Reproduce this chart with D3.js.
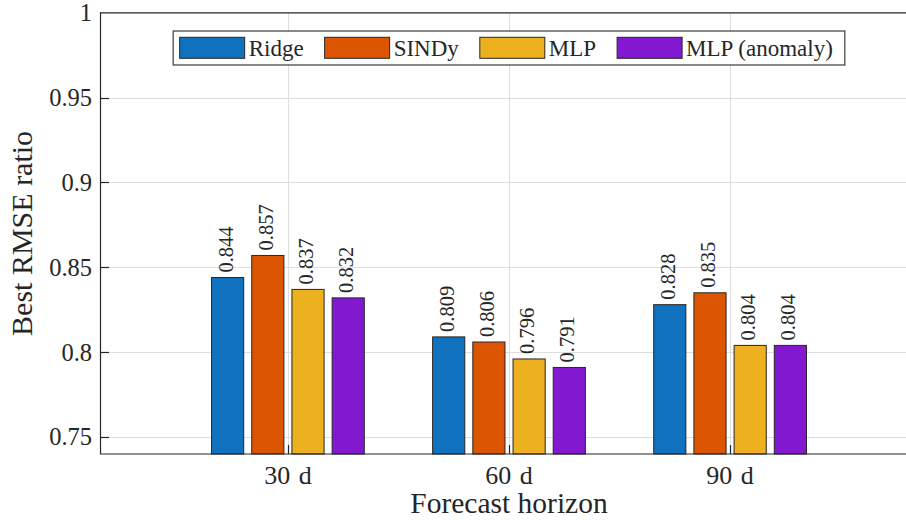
<!DOCTYPE html>
<html>
<head>
<meta charset="utf-8">
<script src="https://cdn.jsdelivr.net/npm/d3@7"></script>
<style>
  html, body { margin: 0; padding: 0; background: #fff; }
  svg { display: block; }
  text { font-family: "Liberation Serif", "Times New Roman", serif; fill: #262626; }
</style>
</head>
<body>
<svg id="chart" width="906" height="520"></svg>
<script>
// Forecast horizons and best RMSE ratio per model
const categories = ["30 d", "60 d", "90 d"];
const seriesNames = ["Ridge", "SINDy", "MLP", "MLP (anomaly)"];
const ridge = [0.844, 0.809, 0.828];
const sindy = [0.857, 0.806, 0.835];
const mlp = [0.837, 0.796, 0.804];
const mlpAnomaly = [0.832, 0.791, 0.804];
const yTicks = [0.75, 0.8, 0.85, 0.9, 0.95, 1];
const yTickLabels = ["0.75", "0.8", "0.85", "0.9", "0.95", "1"];
const colors = ["#1071be", "#dc5500", "#edb120", "#8318d1"];

const seriesValues = [ridge, sindy, mlp, mlpAnomaly];

const W = 906, H = 520;
const svg = d3.select("#chart");

// plot box (extends slightly past the right edge of the page)
const pL = 100, pR = 918, pT = 12.8, pB = 454;

const x = d3.scaleLinear().domain([0.15, 3.85]).range([pL, pR]);
const y = d3.scaleLinear().domain([0.74, 1]).range([pB, pT]);

// grouped-bar geometry in category units
const nS = seriesNames.length;
const groupWidth = Math.min(0.8, nS / (nS + 1.5));
const step = groupWidth / nS;
const barW = step * 0.8;
const offset = i => (i - (nS - 1) / 2) * step;

svg.append("defs").append("clipPath").attr("id", "plotclip")
  .append("rect").attr("x", pL).attr("y", pT - 1).attr("width", pR - pL).attr("height", pB - pT + 2);

const plot = svg.append("g").attr("clip-path", "url(#plotclip)");

// grid
plot.append("g").selectAll("line")
  .data(yTicks.filter(v => v < 1))
  .join("line")
  .attr("x1", pL).attr("x2", pR)
  .attr("y1", d => Math.round(y(d)) + 0.5).attr("y2", d => Math.round(y(d)) + 0.5)
  .attr("stroke", "#dedede").attr("stroke-width", 1);

plot.append("g").selectAll("line")
  .data(categories)
  .join("line")
  .attr("x1", (d, i) => Math.round(x(i + 1)) + 0.5).attr("x2", (d, i) => Math.round(x(i + 1)) + 0.5)
  .attr("y1", pT).attr("y2", pB)
  .attr("stroke", "#dedede").attr("stroke-width", 1);

// bars
const barData = [];
seriesValues.forEach((vals, s) => vals.forEach((v, c) => barData.push({ s, c, v })));

plot.append("g").selectAll("rect")
  .data(barData)
  .join("rect")
  .attr("x", d => x(d.c + 1 + offset(d.s) - barW / 2))
  .attr("width", d => x(barW) - x(0))
  .attr("y", d => y(d.v))
  .attr("height", d => pB - y(d.v))
  .attr("fill", d => colors[d.s])
  .attr("stroke", "#262626").attr("stroke-width", 1);

// value labels above bars
svg.append("g").selectAll("text")
  .data(barData)
  .join("text")
  .attr("transform", d => `translate(${x(d.c + 1 + offset(d.s)) - 2},${y(d.v) - 5}) rotate(-90)`)
  .attr("text-anchor", "start")
  .attr("dy", "0.34em")
  .style("font-size", "20.5px")
  .text(d => d.v.toFixed(3));

// axes frame
const frame = svg.append("g").attr("stroke", "#262626").attr("stroke-width", 1.2).attr("fill", "none");
frame.append("line").attr("x1", pL + 0.5).attr("x2", pL + 0.5).attr("y1", pT).attr("y2", pB);
frame.append("line").attr("x1", pL).attr("x2", W).attr("y1", pB).attr("y2", pB);
frame.append("line").attr("x1", pL).attr("x2", W).attr("y1", pT).attr("y2", pT);

// y ticks (inward) and labels
const yAxis = svg.append("g");
yAxis.selectAll("line")
  .data(yTicks.filter(v => v < 1))
  .join("line")
  .attr("x1", pL).attr("x2", pL + 9)
  .attr("y1", d => Math.round(y(d)) + 0.5).attr("y2", d => Math.round(y(d)) + 0.5)
  .attr("stroke", "#262626").attr("stroke-width", 1.2);
yAxis.selectAll("text")
  .data(yTicks)
  .join("text")
  .attr("x", pL - 8)
  .attr("y", d => y(d))
  .attr("dy", "0.34em")
  .attr("text-anchor", "end")
  .style("font-size", "24.5px")
  .text((d, i) => yTickLabels[i]);

// x ticks (inward) and labels
const xAxis = svg.append("g");
xAxis.selectAll("line")
  .data(categories)
  .join("line")
  .attr("x1", (d, i) => Math.round(x(i + 1)) + 0.5).attr("x2", (d, i) => Math.round(x(i + 1)) + 0.5)
  .attr("y1", pB).attr("y2", pB - 9)
  .attr("stroke", "#262626").attr("stroke-width", 1.2);
xAxis.selectAll("text")
  .data(categories)
  .join("text")
  .attr("x", (d, i) => x(i + 1))
  .attr("y", 483.5)
  .attr("text-anchor", "middle")
  .style("font-size", "26px")
  .style("word-spacing", "2px")
  .text(d => d);

// axis titles
svg.append("text")
  .attr("x", x(2)).attr("y", 513)
  .attr("text-anchor", "middle")
  .style("font-size", "29.5px")
  .text("Forecast horizon");

svg.append("text")
  .attr("transform", `translate(32,${(pT + pB) / 2}) rotate(-90)`)
  .attr("text-anchor", "middle")
  .style("font-size", "30px")
  .text("Best RMSE ratio");

// legend, centred at the top of the plot
const lg = svg.append("g");
const box = lg.append("rect")
  .attr("fill", "#fff").attr("stroke", "#3a3a3a").attr("stroke-width", 1.2);
const swW = 65, swH = 21, padL = 6.5, gapT = 4, gapItem = 21, padR = 12;
let cx = 0;
const items = seriesNames.map((name, i) => {
  const g = lg.append("g");
  g.append("rect").attr("x", cx).attr("y", 37.3).attr("width", swW).attr("height", swH)
    .attr("fill", colors[i]).attr("stroke", "#262626").attr("stroke-width", 1);
  const t = g.append("text").attr("x", cx + swW + gapT).attr("y", 55.5)
    .style("font-size", "23px").text(name);
  const w = t.node().getComputedTextLength();
  cx += swW + gapT + w + (i < nS - 1 ? gapItem : 0);
  return g;
});
const totalW = padL + cx + padR;
const bx = x(2) - totalW / 2;
box.attr("x", bx).attr("y", 31).attr("width", totalW).attr("height", 34);
items.forEach(g => g.attr("transform", `translate(${bx + padL},0)`));
</script>
</body>
</html>
